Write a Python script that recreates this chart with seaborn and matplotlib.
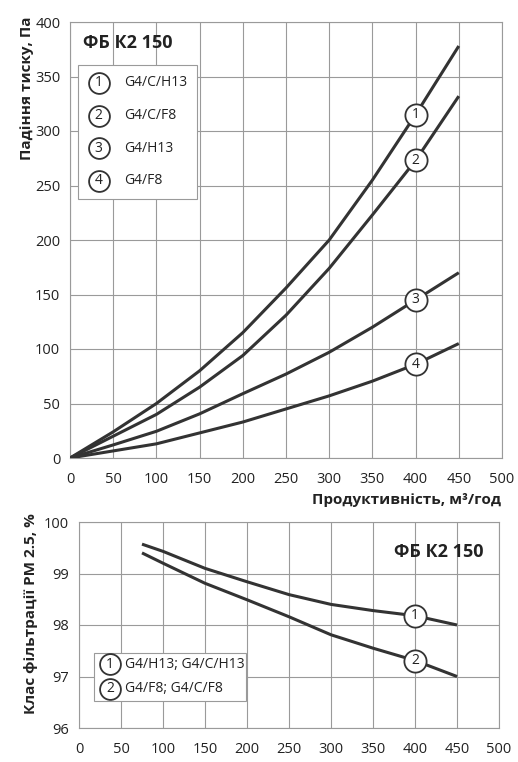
import numpy as np
import pandas as pd
import matplotlib
matplotlib.use("Agg")
import matplotlib.pyplot as plt
import seaborn as sns
from matplotlib.patches import Rectangle

# ---- data ----
flow = [0, 50, 100, 150, 200, 250, 300, 350, 400, 450]
dp_g4_c_h13 = [0, 24, 50, 80, 115, 156, 200, 255, 315, 378]
dp_g4_c_f8 = [0, 20, 40, 65, 94, 131, 174, 223, 273, 332]
dp_g4_h13 = [0, 12, 24.5, 40.5, 59, 77, 97, 120, 145, 170]
dp_g4_f8 = [0, 6.5, 13, 23, 33, 45, 57, 70.5, 86, 105]
dp_labels = ["G4/C/H13", "G4/C/F8", "G4/H13", "G4/F8"]

flow2 = [75, 100, 150, 200, 250, 300, 350, 400, 450]
eff_h13 = [99.57, 99.43, 99.1, 98.84, 98.59, 98.4, 98.28, 98.18, 98.0]
eff_f8 = [99.4, 99.2, 98.81, 98.49, 98.16, 97.81, 97.55, 97.31, 97.0]
eff_labels = ["G4/H13; G4/C/H13", "G4/F8; G4/C/F8"]

title = "ФБ К2 150"
xlabel = "Продуктивність, м³/год"
ylabel1 = "Падіння тиску, Па"
ylabel2 = "Клас фільтрації PM 2.5, %"

sns.set_theme(style="white")
plt.rcParams["font.family"] = ["Open Sans", "DejaVu Sans"]

LINE = "#333333"
GRID = "#9a9a9a"

fig = plt.figure(figsize=(5.18, 7.62), dpi=100)
ax1 = fig.add_axes([70/518, 1-458/762, (502-70)/518, (458-22)/762])
ax2 = fig.add_axes([79/518, 1-728/762, (499-79)/518, (728-522)/762])

df1 = pd.DataFrame({
    "flow": flow * 4,
    "dp": dp_g4_c_h13 + dp_g4_c_f8 + dp_g4_h13 + dp_g4_f8,
    "filt": sum([[l] * len(flow) for l in dp_labels], []),
})
df2 = pd.DataFrame({
    "flow": flow2 * 2,
    "eff": eff_h13 + eff_f8,
    "filt": sum([[l] * len(flow2) for l in eff_labels], []),
})

sns.lineplot(data=df1, x="flow", y="dp", hue="filt", palette=[LINE]*4,
             legend=False, lw=2.2, ax=ax1, zorder=3)
sns.lineplot(data=df2, x="flow", y="eff", hue="filt", palette=[LINE]*2,
             legend=False, lw=2.2, ax=ax2, zorder=3)
for ax in (ax1, ax2):
    for ln in ax.get_lines():
        ln.set_solid_joinstyle("round")
        ln.set_solid_capstyle("butt")

def style(ax, ylim, yticks):
    ax.set_xlim(0, 500)
    ax.set_ylim(*ylim)
    ax.set_xticks(range(0, 501, 50))
    ax.set_yticks(yticks)
    ax.grid(True, color=GRID, lw=0.8)
    for s in ax.spines.values():
        s.set_color(GRID)
        s.set_linewidth(0.8)
    ax.tick_params(axis="both", length=4, width=0.8, color=GRID,
                   labelsize=10.5, labelcolor="#222222", pad=3, direction="out")
    ax.tick_params(axis="x", pad=6)
    ax.set_xlabel("")
    ax.set_ylabel("")

style(ax1, (0, 400), range(0, 401, 50))
style(ax2, (96, 100), range(96, 101, 1))

def circ(ax, x, y, n, coords="data", size=16):
    tr = ax.transData if coords == "data" else ax.transAxes
    ax.scatter([x], [y], s=size**2, facecolor="white", edgecolor=LINE,
               lw=1.3, zorder=5, transform=tr, clip_on=False)
    ax.text(x, y, str(n), ha="center", va="center", fontsize=10,
            color="#222222", zorder=6, transform=tr)

# circled labels on curves at 400
for i, ys in enumerate([dp_g4_c_h13, dp_g4_c_f8, dp_g4_h13, dp_g4_f8]):
    circ(ax1, flow[8], ys[8], i + 1)
for i, ys in enumerate([eff_h13, eff_f8]):
    circ(ax2, flow2[7], ys[7], i + 1)

# titles
ax1.text((83-70)/432, 1-(43-22)/436, title, transform=ax1.transAxes,
         fontsize=13, fontweight="bold", ha="left", va="center", color="#222222")
ax2.text((483-79)/420, 1-(552-522)/206, title, transform=ax2.transAxes,
         fontsize=13, fontweight="bold", ha="right", va="center", color="#222222")

# legend box top
x0, x1, y0, y1 = 78, 197, 65, 199
ax1.add_patch(Rectangle(((x0-70)/432, 1-(y1-22)/436), (x1-x0)/432, (y1-y0)/436,
                        transform=ax1.transAxes, facecolor="white",
                        edgecolor=GRID, lw=0.8, zorder=4))
for i, lab in enumerate(dp_labels):
    yy = 1 - (83 + i*32.5 - 22)/436
    circ(ax1, (98.5-70)/432, yy, i + 1, coords="axes", size=15)
    ax1.text((124-70)/432, yy, lab, transform=ax1.transAxes, fontsize=10,
             va="center", ha="left", color="#222222", zorder=6)

# legend box bottom
x0, x1, y0, y1 = 94, 246, 653, 701
ax2.add_patch(Rectangle(((x0-79)/420, 1-(y1-522)/206), (x1-x0)/420, (y1-y0)/206,
                        transform=ax2.transAxes, facecolor="white",
                        edgecolor=GRID, lw=0.8, zorder=4))
for i, lab in enumerate(eff_labels):
    yy = 1 - (664 + i*25 - 522)/206
    circ(ax2, (110-79)/420, yy, i + 1, coords="axes", size=15)
    ax2.text((125-79)/420, yy, lab, transform=ax2.transAxes, fontsize=10,
             va="center", ha="left", color="#222222", zorder=6)

# axis labels
fig.text(27/518, 1-88/762, ylabel1, rotation=90, ha="center", va="center",
         fontsize=11, fontweight="bold", color="#222222")
fig.text(501/518, 1-500/762, xlabel, ha="right", va="center",
         fontsize=11, fontweight="bold", color="#222222")
fig.text(31/518, 1-614/762, ylabel2, rotation=90, ha="center", va="center",
         fontsize=11, fontweight="bold", color="#222222")

fig.savefig("out.png", dpi=100, facecolor="white")
